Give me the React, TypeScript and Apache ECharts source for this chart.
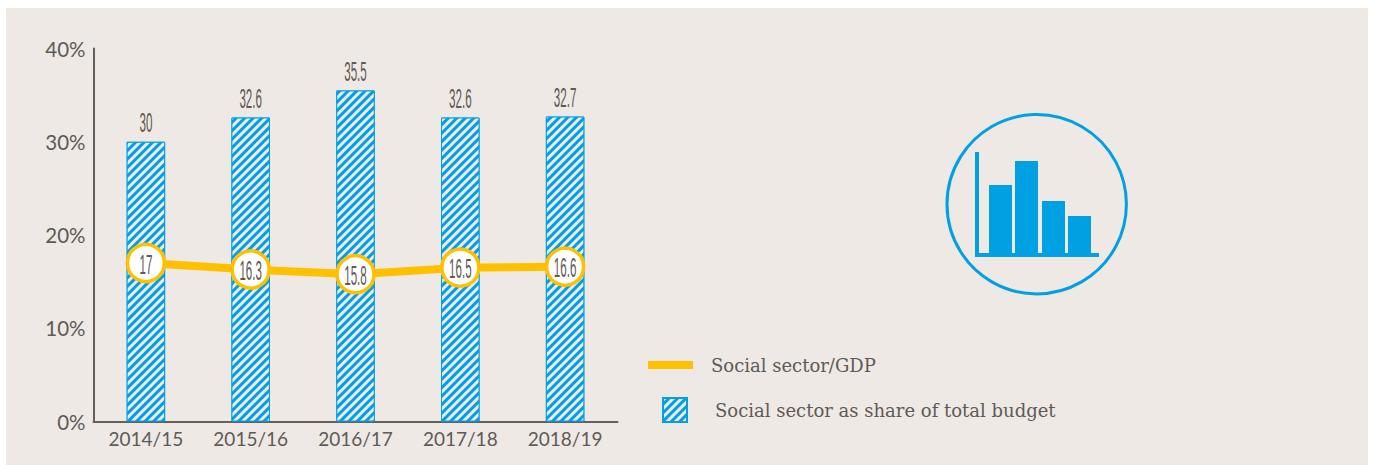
import React, { useEffect, useRef } from "react";
import * as echarts from "echarts";

const categories = ["2014/15", "2015/16", "2016/17", "2017/18", "2018/19"];
const budgetShare = [30, 32.6, 35.5, 32.6, 32.7];
const gdpShare = [17, 16.3, 15.8, 16.5, 16.6];
const yTicks = [0, 10, 20, 30, 40];
const lineName = "Social sector/GDP";
const barName = "Social sector as share of total budget";

const BLUE = "#00a0e3";
const BG = "#eee9e5";
const INK = "#5f5a56";
const YELLOW = "#ffc000";

const stripes = {
  color: BG,
  symbol: "rect",
  symbolSize: 1,
  dashArrayX: [1, 0],
  dashArrayY: [2.9, 2.9],
  rotation: -Math.PI / 4,
};

const condensedText = (offsetY: number, baseline: string) => (params: any, api: any) => {
  const v = api.value(1);
  const p = api.coord([api.value(0), v]);
  return {
    type: "text",
    x: p[0],
    y: p[1] + offsetY,
    scaleX: 0.43,
    style: {
      text: String(v),
      fontFamily: "Liberation Sans",
      fontSize: 27,
      fill: INK,
      align: "center",
      verticalAlign: baseline,
    },
  };
};

export default function App() {
  const ref = useRef<HTMLDivElement>(null);
  useEffect(() => {
    const chart = echarts.init(ref.current!, undefined, { renderer: "svg" });
    chart.setOption({
      animation: false,
      backgroundColor: "#ffffff",
      grid: { left: 93.5, right: 1375 - 617.5, top: 48.5, bottom: 465 - 421.5, containLabel: false },
      graphic: [
        { type: "rect", z: -10, shape: { x: 6, y: 8, width: 1362, height: 457 }, style: { fill: BG } },
        { type: "circle", shape: { cx: 1036.7, cy: 204.2, r: 89.7 }, style: { fill: "none", stroke: BLUE, lineWidth: 3 } },
        { type: "rect", shape: { x: 975, y: 152, width: 4, height: 105 }, style: { fill: BLUE } },
        { type: "rect", shape: { x: 975, y: 253, width: 124, height: 4 }, style: { fill: BLUE } },
        { type: "rect", shape: { x: 989, y: 185, width: 23, height: 68 }, style: { fill: BLUE } },
        { type: "rect", shape: { x: 1015, y: 161, width: 23, height: 92 }, style: { fill: BLUE } },
        { type: "rect", shape: { x: 1042, y: 201, width: 23, height: 52 }, style: { fill: BLUE } },
        { type: "rect", shape: { x: 1068, y: 216, width: 23, height: 37 }, style: { fill: BLUE } },
      ],
      legend: [
        {
          data: [{ name: lineName, icon: "rect", itemStyle: { color: YELLOW, borderWidth: 0 } }],
          left: 643,
          top: 351,
          itemWidth: 45,
          itemHeight: 8,
          textStyle: { fontFamily: "DejaVu Serif", fontSize: 18, color: INK, padding: [0, 0, 0, 13] },
        },
        {
          data: [{ name: barName, icon: "rect" }],
          left: 657,
          top: 392,
          itemWidth: 24,
          itemHeight: 24,
          textStyle: { fontFamily: "DejaVu Serif", fontSize: 18, color: INK, padding: [0, 0, 4, 23] },
        },
      ],
      xAxis: {
        type: "category",
        data: categories,
        axisTick: { show: false },
        axisLine: { lineStyle: { color: "#66605c", width: 2 } },
        axisLabel: { fontFamily: "Lato", fontSize: 19, color: INK, margin: 7 },
      },
      yAxis: {
        type: "value",
        min: yTicks[0],
        max: yTicks[yTicks.length - 1],
        interval: yTicks[1] - yTicks[0],
        splitLine: { show: false },
        axisTick: { show: false },
        axisLine: { show: true, lineStyle: { color: "#66605c", width: 2 } },
        axisLabel: { fontFamily: "Lato", fontSize: 20.5, color: INK, margin: 8, formatter: "{value}%" },
      },
      series: [
        {
          name: barName,
          type: "bar",
          data: budgetShare,
          barWidth: 38.5,
          z: 1,
          itemStyle: { color: BLUE, borderColor: BLUE, borderWidth: 1, decal: stripes },
        },
        {
          name: lineName,
          type: "line",
          data: gdpShare,
          z: 2,
          symbol: "circle",
          symbolSize: 37,
          lineStyle: { color: YELLOW, width: 8 },
          itemStyle: { color: "#ffffff", borderColor: YELLOW, borderWidth: 3.5 },
        },
        {
          type: "custom",
          z: 3,
          data: budgetShare.map((v, i) => [i, v]),
          encode: { x: 0, y: 1 },
          renderItem: condensedText(-6, "bottom"),
        },
        {
          type: "custom",
          z: 3,
          data: gdpShare.map((v, i) => [i, v]),
          encode: { x: 0, y: 1 },
          renderItem: condensedText(1, "middle"),
        },
      ],
    });
    return () => chart.dispose();
  }, []);
  return <div ref={ref} style={{ position: "absolute", left: 0, top: 0, width: 1375, height: 465 }} />;
}
